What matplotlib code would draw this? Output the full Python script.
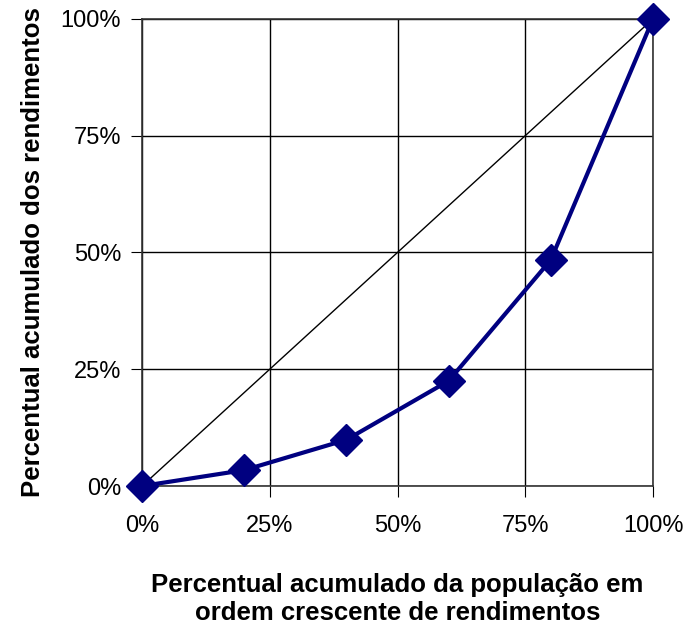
import matplotlib.pyplot as plt

# Curva de Lorenz
populacao = [0, 20, 40, 60, 80, 100]
rendimentos = [0, 3.4, 9.9, 22.5, 48.4, 100]
ticks = [0, 25, 50, 75, 100]
tick_labels = ['0%', '25%', '50%', '75%', '100%']

plt.rcParams['font.family'] = ['Liberation Sans', 'DejaVu Sans']

fig = plt.figure(figsize=(6.85, 6.33), dpi=100)
ax = fig.add_axes([0.2073, 0.2322, 0.746, 0.738])

# linha de igualdade
ax.plot([0, 100], [0, 100], color='black', linewidth=1, zorder=2)
ax.plot(populacao, rendimentos, color='#000080', linewidth=3,
        marker='D', markersize=16, zorder=3, clip_on=False)

ax.set_xlim(0, 100)
ax.set_ylim(0, 100)
ax.set_xticks(ticks)
ax.set_yticks(ticks)
ax.set_xticklabels(tick_labels, fontsize=17)
ax.set_yticklabels(tick_labels, fontsize=17)
ax.tick_params(axis='x', direction='out', length=8, pad=13)
ax.tick_params(axis='y', direction='out', length=8, pad=7)
ax.grid(True, color='black', linewidth=1)
ax.set_axisbelow(True)
for s in ax.spines.values():
    s.set_linewidth(1.2)
    s.set_color('#333333')

ax.set_xlabel('Percentual acumulado da população em\nordem crescente de rendimentos',
              fontsize=18.5, fontweight='bold', labelpad=26, linespacing=1.2)
ax.set_ylabel('Percentual acumulado dos rendimentos',
              fontsize=18.5, fontweight='bold', labelpad=11)

fig.savefig('out.png', dpi=100)
